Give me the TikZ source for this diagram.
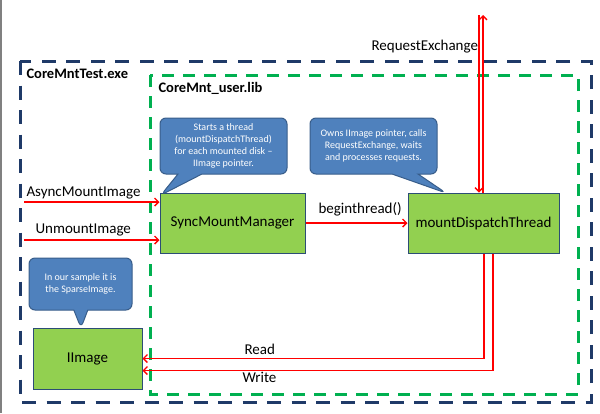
\documentclass[tikz,border=0pt]{standalone}
\usepackage{fontspec}
\setmainfont{Carlito}
\usetikzlibrary{arrows.meta, shapes.callouts, positioning}

\definecolor{exeblue}{HTML}{1F3A68}
\definecolor{libgreen}{HTML}{00B050}
\definecolor{boxgreen}{HTML}{92D050}
\definecolor{boxedge}{HTML}{2C4D75}
\definecolor{bubblefill}{HTML}{4F81BD}
\definecolor{bubbleedge}{HTML}{385D8A}

\tikzset{
  block/.style={draw=boxedge, line width=1pt, fill=boxgreen, inner sep=0pt, font=\fontsize{15}{18}\selectfont},
  bubble/.style={rectangle callout, rounded corners=6pt, draw=bubbleedge, line width=1pt, fill=bubblefill,
    text=white, align=center, inner sep=0pt, font=\fontsize{10}{12}\selectfont},
  flow/.style={red, line width=1.4pt, -{Straight Barb[length=4pt, width=8pt]}},
  label/.style={anchor=base west, font=\fontsize{15}{18}\selectfont},
  title/.style={anchor=base west, font=\fontsize{14.5}{17}\selectfont\bfseries},
}

\begin{document}
\begin{tikzpicture}[x=1pt, y=-1pt]
\useasboundingbox (0,0) rectangle (600,413);
\draw[gray, line width=1.5pt] (0.75,0) -- (0.75,413);

% the two modules
\draw[exeblue, line width=3pt, dash pattern=on 14pt off 10.5pt] (20,61) rectangle (591,402);
\draw[libgreen, line width=3pt, dash pattern=on 12pt off 9pt] (150,75) rectangle (578,394);
\node[title] (exe) at (23,78) {CoreMntTest.exe};
\node[title] (lib) at (155,92) {CoreMnt\_user.lib};

% classes
\node[block, minimum width=145pt, minimum height=60pt] (sync) at (232.5,223) {SyncMountManager};
\node[block, minimum width=151pt, minimum height=60pt] (dispatch) at (483.5,223) {mountDispatchThread};
\node[block, minimum width=109pt, minimum height=61pt] (iimage) at (87.5,358.5) {IImage};

% notes
\node[bubble, minimum width=127pt, minimum height=56pt, callout absolute pointer={(161,195)}, callout pointer width=24pt]
  (note1) at (223.5,146) {Starts a thread\\(mountDispatchThread)\\for each mounted disk --\\IImage pointer.};
\node[bubble, minimum width=127pt, minimum height=56pt, callout absolute pointer={(446,193)}, callout pointer width=26pt]
  (note2) at (373.5,146) {Owns IImage pointer, calls\\RequestExchange, waits\\and processes requests.};
\node[bubble, minimum width=103pt, minimum height=52pt, callout absolute pointer={(81,328)}, callout pointer width=14pt]
  (note3) at (80.5,284) {In our sample it is\\the SparseImage.};

% calls
\coordinate (async) at (24,202);
\coordinate (unmount) at (24,240);
\coordinate (up) at (483,15);
\coordinate (down) at (479,15);
\draw[flow] (async) -- (async -| sync.west);
\draw[flow] (unmount) -- (unmount -| sync.west);
\draw[flow] (sync.east) -- (dispatch.west);
\draw[flow] (dispatch.north -| up) -- (up);
\draw[flow] (down) -- (dispatch.north -| down);
\draw[flow] ([xshift=0.5pt]dispatch.south) |- (iimage.east);
\draw[flow] ([xshift=9.5pt]dispatch.south) |- ([yshift=-12pt]iimage.east);

\node[label] (asynclbl) at (23,196) {AsyncMountImage};
\node[label] (unmountlbl) at (32,233) {UnmountImage};
\node[label] (beginlbl) at (315,213) {beginthread()};
\node[label] (reqlbl) at (368,50) {RequestExchange};
\node[label] (readlbl) at (241,354) {Read};
\node[label] (writelbl) at (239,382) {Write};

\end{tikzpicture}
\end{document}
